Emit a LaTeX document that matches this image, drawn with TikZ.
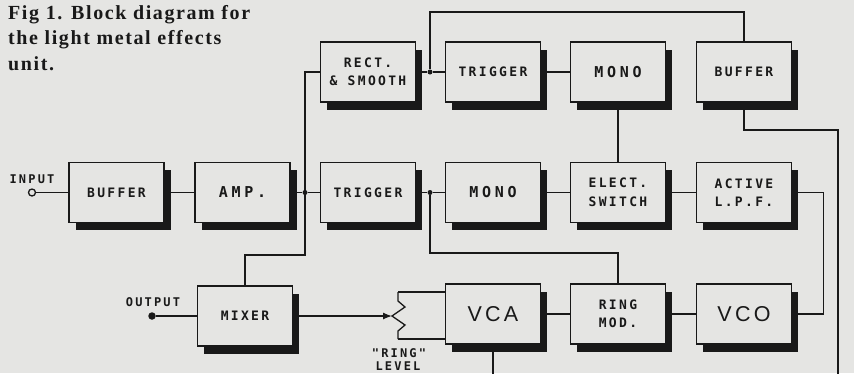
\documentclass[tikz,border=0pt]{standalone}
\usepackage{fontspec}
\setmainfont{Liberation Serif}
\newfontfamily\ttlfont[LetterSpace=8]{Liberation Serif}
\newfontfamily\lblfont[LetterSpace=18]{DejaVu Sans Mono}
\newfontfamily\medfont[LetterSpace=25]{DejaVu Sans Mono}
\newfontfamily\bigfont[LetterSpace=15]{Liberation Sans}
\usetikzlibrary{shadows,arrows.meta}
\definecolor{bg}{RGB}{229,229,227}
\definecolor{ink}{RGB}{25,25,25}
\begin{document}
\begin{tikzpicture}[x=1pt,y=-1pt,
  blk/.style={draw=ink, line width=1.9pt, fill=bg, minimum width=95pt, minimum height=60pt,
    inner sep=0pt, align=center, text=ink,
    drop shadow={shadow xshift=6.5pt, shadow yshift=-7.5pt, fill=ink, opacity=1}},
  sm/.style={font=\lblfont\bfseries\fontsize{13}{18.5}\selectfont},
  md/.style={font=\medfont\bfseries\fontsize{15}{17}\selectfont},
  lg/.style={font=\bigfont\fontsize{21.5}{24}\selectfont},
  wire/.style={draw=ink, line width=1.3pt},
  jdot/.style={circle, fill=ink, inner sep=0pt, minimum size=5pt},
  lbl/.style={text=ink, inner sep=0pt, font=\lblfont\bfseries\fontsize{12}{13}\selectfont},
  ttl/.style={text=ink, inner sep=0pt, anchor=base west, font=\ttlfont\bfseries\fontsize{20}{24}\selectfont}
]
\path[use as bounding box] (0,0) rectangle (854,373);
\fill[bg] (0,0) rectangle (854,373);
\clip (0,0) rectangle (854,373);

% title
\node[ttl] (t1) at (8,19) {Fig 1. Block diagram for};
\node[ttl] (t2) at (8,44.5) {the light metal effects};
\node[ttl] (t3) at (8,70) {unit.};

% blocks
\node[blk,sm] (rect)  at (368,72) {RECT.\\\& SMOOTH};
\node[blk,sm] (trigT) at (493,72) {TRIGGER};
\node[blk,md] (monoT) at (618,72) {MONO};
\node[blk,sm] (bufT)  at (744,72) {BUFFER};

\node[blk,sm] (bufM)  at (116.5,192.5) {BUFFER};
\node[blk,md] (amp)   at (242.5,192.5) {AMP.};
\node[blk,sm] (trigM) at (368,192.5) {TRIGGER};
\node[blk,md] (monoM) at (493,192.5) {MONO};
\node[blk,sm] (elect) at (618,192.5) {ELECT.\\SWITCH};
\node[blk,sm] (lpf)   at (744,192.5) {ACTIVE\\L.P.F.};

\node[blk,sm] (mixer) at (245,316) {MIXER};
\node[blk,lg] (vca)   at (493,314) {VCA};
\node[blk,sm] (ring)  at (618,314) {RING\\MOD.};
\node[blk,lg] (vco)   at (744,314) {VCO};

% terminals
\node[circle, draw=ink, line width=1.3pt, fill=bg, inner sep=0pt, minimum size=7pt] (in) at (32,192.5) {};
\node[lbl] (inl) at (32,179) {INPUT};
\node[jdot, minimum size=7.5pt] (out) at (152,316) {};
\node[lbl] (outl) at (153,302) {OUTPUT};
\node[lbl] (rl1) at (399,353) {"RING"};
\node[lbl] (rl2) at (398,366) {LEVEL};

% junctions and corners
\node[jdot] (J1) at (305,192.5) {};
\node[jdot] (J2) at (430,72) {};
\node[jdot] (J3) at (430,192.5) {};
\coordinate (K1) at (305,255);
\coordinate (K2) at (0,12);
\coordinate (K3) at (838,130);
\coordinate (K4) at (838,380);
\coordinate (K5) at (493,380);
\coordinate (wp) at (392,316);
\coordinate (pt) at (398,292);
\coordinate (pb) at (398,339);

% wires
\draw[wire] (in) -- (bufM.west);
\draw[wire] (bufM.east) -- (amp.west);
\draw[wire] (amp.east) -- (J1) -- (trigM.west);
\draw[wire] (rect.west) -| (K1) -| (mixer.north);
\draw[wire] (rect.east) -- (J2) -- (trigT.west);
\draw[wire] (J2) |- (K2 -| bufT.north) -- (bufT.north);
\draw[wire] (trigT.east) -- (monoT.west);
\draw[wire] (monoT.south) -- (elect.north);
\draw[wire] (bufT.south) |- (K3) -- (K4);
\draw[wire] (trigM.east) -- (J3) -- (monoM.west);
\draw[wire] (J3) -- ++(0,60.5) -| (ring.north);
\draw[wire] (monoM.east) -- (elect.west);
\draw[wire] (elect.east) -- (lpf.west);
\draw[wire] (lpf.east) -- ++(31,0) |- (vco.east);
\draw[wire] (vca.east) -- (ring.west);
\draw[wire] (ring.east) -- (vco.west);
\draw[wire] (vca.south) -- (K5);
\draw[wire] (out) -- (mixer.west);
\draw[wire, -{Latex[length=9pt,width=7pt]}] (mixer.east) -- (wp);

% ring level potentiometer
\draw[wire, line join=miter] (pt) -- (398,301) -- (405,307) -- (392,316) -- (405,325) -- (398,331) -- (pb);
\draw[wire] (pt) -- (pt -| vca.west);
\draw[wire] (pb) -- (pb -| vca.west);
\end{tikzpicture}
\end{document}
